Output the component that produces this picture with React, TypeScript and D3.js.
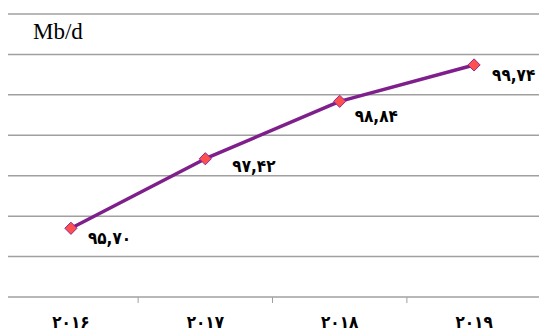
import React from "react";
import * as d3 from "d3";

const years = ["۲۰۱۶", "۲۰۱۷", "۲۰۱۸", "۲۰۱۹"];
const values = [95.7, 97.42, 98.84, 99.74];
const valueLabels = ["۹۵,۷۰", "۹۷,۴۲", "۹۸,۸۴", "۹۹,۷۴"];
const gridValues = [94, 95, 96, 97, 98, 99, 100, 101];
const unitLabel = "Mb/d";

// label placement relative to each marker (dx to start, dy to baseline)
const labelOffsets: [number, number][] = [
  [17, 16],
  [27, 13],
  [15, 21],
  [18, 16],
];

const W = 539;
const H = 334;
const digitFont = "'DejaVu Sans Condensed', 'DejaVu Sans', sans-serif";

export default function App() {
  const x = d3.scaleBand<string>().domain(years).range([3.75, 541.25]).padding(0);
  const y = d3.scaleLinear().domain([94, 101]).range([297, 14]);
  const cx = (i: number) => (x(years[i]) ?? 0) + x.bandwidth() / 2;

  const line = d3
    .line<number>()
    .x((_, i) => cx(i))
    .y((d) => y(d));

  const diamond = d3.symbol().type(d3.symbolDiamond2).size(95)();

  const tickXs = years.slice(1).map((yr) => x(yr) ?? 0);

  return (
    <svg
      width={W}
      height={H}
      style={{ position: "absolute", left: 0, top: 0, background: "#fff" }}
    >
      {gridValues.map((g) => (
        <line
          key={g}
          x1={8}
          x2={W}
          y1={y(g)}
          y2={y(g)}
          stroke="#a0a0a0"
          strokeWidth={1.5}
        />
      ))}
      {tickXs.map((tx, i) => (
        <line
          key={i}
          x1={tx}
          x2={tx}
          y1={y(94)}
          y2={y(94) + 6}
          stroke="#a0a0a0"
          strokeWidth={1}
        />
      ))}
      <text
        x={33}
        y={39}
        fontFamily="'Liberation Serif', 'Times New Roman', serif"
        fontSize={23}
        fill="#000"
      >
        {unitLabel}
      </text>
      <path
        d={line(values) ?? ""}
        fill="none"
        stroke="#7e1f8c"
        strokeWidth={3.5}
        strokeLinejoin="round"
      />
      {values.map((v, i) => (
        <path
          key={i}
          d={diamond ?? ""}
          transform={`translate(${cx(i)},${y(v)})`}
          fill="#ff5050"
          stroke="#8a2a9a"
          strokeWidth={1}
        />
      ))}
      {values.map((v, i) => (
        <text
          key={i}
          x={cx(i) + labelOffsets[i][0]}
          y={y(v) + labelOffsets[i][1]}
          fontFamily={digitFont}
          fontWeight="bold"
          fontSize={17}
          fill="#000"
          direction="ltr"
        >
          {valueLabels[i]}
        </text>
      ))}
      {years.map((yr, i) => (
        <text
          key={yr}
          x={cx(i)}
          y={328}
          textAnchor="middle"
          fontFamily={digitFont}
          fontWeight="bold"
          fontSize={17}
          fill="#000"
        >
          {yr}
        </text>
      ))}
    </svg>
  );
}
